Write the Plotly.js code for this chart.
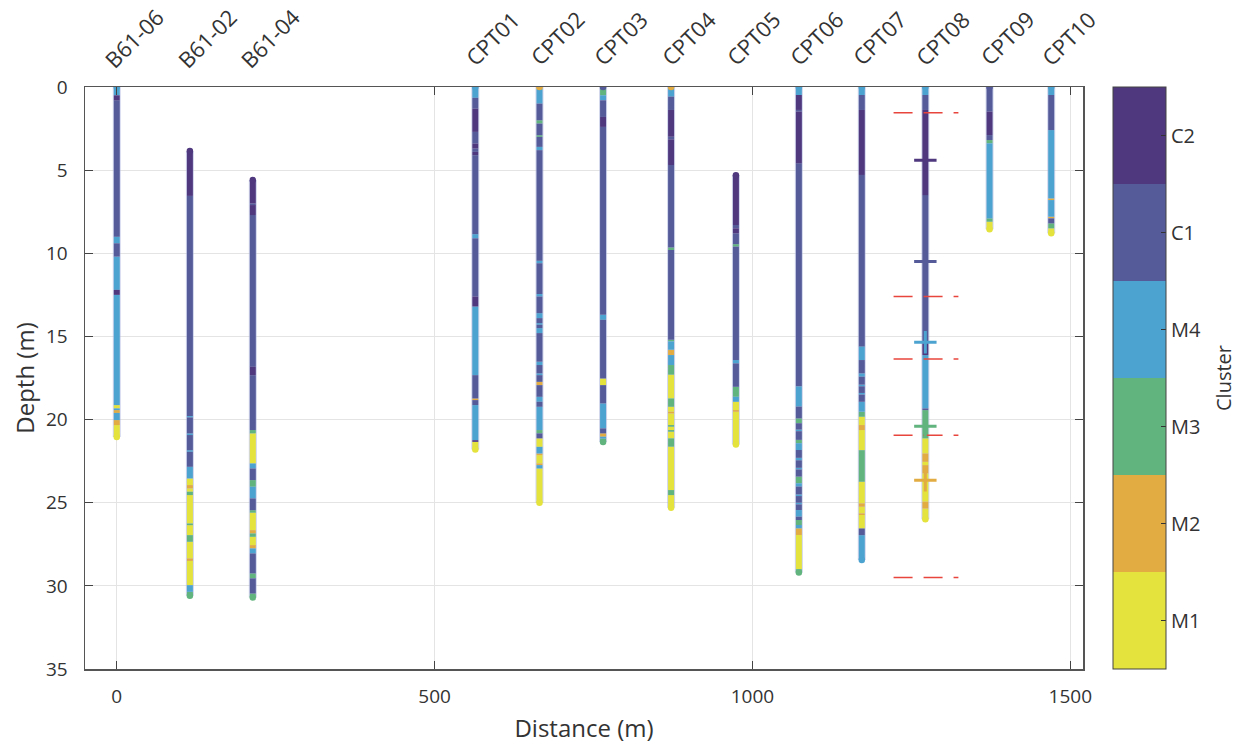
<!DOCTYPE html>
<html>
<head>
<meta charset="utf-8">
<script src="https://cdn.plot.ly/plotly-3.0.1.min.js"></script>
<style>html,body{margin:0;padding:0;background:#fff;}#chart{width:1239px;height:751px;}</style>
</head>
<body>
<div id="chart"></div>
<script>
// ---------- DATA ----------
const boreholeNames = ['B61-06','B61-02','B61-04','CPT01','CPT02','CPT03','CPT04','CPT05','CPT06','CPT07','CPT08','CPT09','CPT10'];
const boreholeX = [0, 115, 214, 564, 665, 765, 872, 974, 1073, 1172, 1272, 1373, 1470];

// interval boundaries (depth, m) and cluster of each interval
const B61_06_depth = [0, 0.5, 0.8, 9.0, 9.4, 10.2, 12.2, 12.5, 19.13, 19.33, 19.43, 19.6, 20.03, 20.33, 21.05];
const B61_06_cluster = ['M4','C2','C1','M4','C1','M4','C2','M4','M1','M4','M2','M4','M2','M1'];

const B61_02_depth = [3.85, 6.55, 19.79, 19.87, 20.83, 20.93, 21.84, 21.94, 22.84, 23.54, 23.94, 24.14, 24.34, 24.54, 26.25, 26.35, 26.95, 27.35, 28.35, 28.5, 29.96, 30.36, 30.6];
const B61_02_cluster = ['C2','C1','M4','C1','M4','C1','M4','C1','M4','M1','M2','M1','M3','M1','M3','M1','M3','M1','M2','M1','M4','M3'];

const B61_04_depth = [5.6, 7.0, 7.1, 7.7, 16.82, 17.33, 20.63, 20.83, 22.64, 22.94, 23.64, 24.04, 24.74, 25.45, 25.6, 26.65, 26.85, 27.05, 27.55, 27.75, 28.05, 29.25, 29.55, 30.46, 30.7];
const B61_04_cluster = ['C2','C1','C2','C1','C2','C1','M3','M1','M4','C1','M3','M4','C1','M3','M1','M2','M3','M1','M2','M4','C1','M3','C1','M3'];

const CPT01_depth = [0, 0.65, 1.3, 2.7, 3.4, 3.7, 3.9, 4.1, 8.85, 9.1, 12.6, 13.2, 17.33, 18.73, 18.83, 19.13, 21.24, 21.34, 21.8];
const CPT01_cluster = ['M4','C1','C2','C1','C2','C1','C2','C1','M4','C1','C2','M4','C1','M2','C1','M4','C2','M1'];

const CPT02_depth = [0, 0.1, 1.0, 2.0, 2.2, 2.9, 3.0, 3.6, 3.8, 10.45, 10.6, 12.45, 12.6, 13.6, 13.9, 14.2, 14.3, 14.5, 14.8, 16.52, 16.72, 17.22, 17.33, 17.73, 17.93, 18.63, 18.93, 19.23, 20.63, 20.83, 21.13, 21.64, 22.04, 22.14, 22.64, 22.74, 22.94, 25.0];
const CPT02_cluster = ['M2','M4','C1','M3','C1','M3','C1','M4','C1','M4','C1','M4','C1','M4','C1','M4','C1','M4','C1','M4','C1','M4','C1','M2','C1','M4','C1','M4','M3','C1','M1','M4','M2','M1','M2','M4','M1'];

const CPT03_depth = [0, 0.1, 0.5, 0.8, 1.8, 2.4, 13.7, 14.0, 17.53, 17.93, 19.03, 20.53, 20.83, 21.03, 21.14, 21.35];
const CPT03_cluster = ['C1','M3','M4','C1','C2','C1','M4','C1','M1','C1','M4','C1','M2','M4','M3'];

const CPT04_depth = [0, 0.05, 0.58, 1.38, 2.99, 3.15, 4.69, 9.65, 9.8, 15.2, 15.3, 15.8, 16.12, 16.72, 17.3, 18.73, 19.23, 19.53, 19.63, 20.33, 20.43, 20.63, 20.73, 21.13, 21.63, 24.24, 24.54, 25.3];
const CPT04_cluster = ['M2','M4','C1','C2','C1','C2','C1','M3','C1','M3','M4','M2','M4','M3','M1','M3','M1','M2','M1','M3','M1','M3','M1','M3','M1','M3','M1'];

const CPT05_depth = [5.3, 8.3, 8.5, 8.8, 9.45, 9.6, 16.42, 16.62, 18.03, 18.63, 18.93, 19.43, 19.53, 21.5];
const CPT05_cluster = ['C2','C1','C2','C1','M3','C1','M4','C1','M3','M4','M1','M2','M1'];

const CPT06_depth = [0, 0.48, 1.38, 1.48, 4.59, 18.0, 19.22, 19.93, 20.22, 20.6, 20.7, 21.22, 21.42, 21.83, 22.3, 22.45, 22.9, 23.0, 23.43, 23.83, 24.03, 24.5, 24.6, 25.0, 25.1, 25.44, 25.84, 26.04, 26.34, 26.54, 26.94, 29.0, 29.2];
const CPT06_cluster = ['M4','C2','C1','C2','C1','M4','C1','M3','C1','M4','C1','M3','M4','C1','M4','C1','M4','C1','M3','M4','C1','M4','C1','M4','C1','M4','C1','M3','M4','M2','M1','M3'];

const CPT07_depth = [0, 0.48, 1.38, 5.29, 15.6, 16.42, 17.22, 17.42, 17.9, 18.0, 18.4, 18.5, 18.93, 19.53, 19.83, 20.33, 20.63, 21.84, 23.74, 25.04, 25.24, 25.64, 25.74, 26.55, 26.95, 28.45];
const CPT07_cluster = ['M4','C1','C2','C1','M4','C1','M4','C1','M4','C1','M4','C1','M4','M3','M1','M2','M1','M3','M1','M2','M1','M2','M1','C1','M4'];

const CPT08_depth = [0, 0.48, 1.38, 6.5, 15.4, 16.12, 19.33, 19.43, 21.13, 22.04, 22.54, 22.74, 23.24, 24.94, 25.35, 26.0];
const CPT08_cluster = ['M4','C1','C2','C1','C2','M4','C1','M3','M1','M2','M1','M2','M1','M2','M1'];

const CPT09_depth = [0, 1.48, 2.89, 3.19, 3.39, 7.9, 8.1, 8.55];
const CPT09_cluster = ['C1','C2','C1','M3','M4','M3','M1'];

const CPT10_depth = [0, 0.48, 2.59, 6.7, 6.8, 7.8, 7.9, 8.2, 8.5, 8.8];
const CPT10_cluster = ['M4','C1','M4','M2','M4','M2','C1','M3','M1'];

// CPT08 reference markers and boundaries
const cpt08MarkDepth = [4.4, 10.5, 15.35, 20.4, 23.65];
const cpt08MarkCluster = ['C2','C1','M4','M3','M2'];
const cpt08BoundaryDepth = [1.55, 12.6, 16.35, 20.95, 29.5];

// cluster legend (bottom to top)
const clusterNames = ['M1','M2','M3','M4','C1','C2'];
const clusterColors = ['#e4e23c','#e2ac42','#62b47e','#4da3cf','#545b98','#4f387e'];

// ---------- BUILD ----------
const depthLists = [B61_06_depth,B61_02_depth,B61_04_depth,CPT01_depth,CPT02_depth,CPT03_depth,CPT04_depth,CPT05_depth,CPT06_depth,CPT07_depth,CPT08_depth,CPT09_depth,CPT10_depth];
const clusterLists = [B61_06_cluster,B61_02_cluster,B61_04_cluster,CPT01_cluster,CPT02_cluster,CPT03_cluster,CPT04_cluster,CPT05_cluster,CPT06_cluster,CPT07_cluster,CPT08_cluster,CPT09_cluster,CPT10_cluster];
const colorOf = c => clusterColors[clusterNames.indexOf(c)];

const traces = [];

// faint halo behind each column
const hx = [], hy = [];
depthLists.forEach((d, b) => { hx.push(boreholeX[b], boreholeX[b], null); hy.push(d[0], d[d.length-1], null); });
traces.push({type:'scatter', mode:'lines', x:hx, y:hy, line:{color:'rgba(170,178,220,0.55)', width:8}, hoverinfo:'skip', showlegend:false});

clusterNames.forEach(cn => {
  const xs = [], ys = [];
  depthLists.forEach((d, b) => {
    clusterLists[b].forEach((c, i) => {
      if (c === cn) { xs.push(boreholeX[b], boreholeX[b], null); ys.push(d[i], d[i+1], null); }
    });
  });
  traces.push({type:'scatter', mode:'lines', x:xs, y:ys, line:{color:colorOf(cn), width:6}, hoverinfo:'skip', showlegend:false});
});

// rounded ends of each column
const capX = [], capY = [], capC = [];
depthLists.forEach((d, b) => {
  const cl = clusterLists[b];
  capX.push(boreholeX[b], boreholeX[b]);
  capY.push(d[0], d[d.length-1]);
  capC.push(colorOf(cl[0]), colorOf(cl[cl.length-1]));
});
traces.push({type:'scatter', mode:'markers', x:capX, y:capY, marker:{color:capC, size:6.5, line:{width:0}}, hoverinfo:'skip', showlegend:false});

// red dashed boundaries at CPT08
const bx = [], by = [];
cpt08BoundaryDepth.forEach(d => { bx.push(1222, 1324, null); by.push(d, d, null); });
traces.push({type:'scatter', mode:'lines', x:bx, y:by, line:{color:'#e8453c', width:1.5, dash:'19px,11px'}, hoverinfo:'skip', showlegend:false});

// crosses at CPT08
traces.push({type:'scatter', mode:'markers', x:cpt08MarkDepth.map(() => boreholeX[10]), y:cpt08MarkDepth,
  marker:{symbol:'cross-thin', size:16, line:{width:3, color:cpt08MarkCluster.map(colorOf)}}, hoverinfo:'skip', showlegend:false});

// colour bar
const cscale = [];
clusterColors.forEach((c, i) => { cscale.push([i/6, c]); cscale.push([(i+1)/6, c]); });
traces.push({type:'scatter', mode:'markers', x:[-1000], y:[-1000], hoverinfo:'skip', showlegend:false,
  marker:{color:[1], cmin:0.5, cmax:6.5, colorscale:cscale, showscale:true, size:1,
    colorbar:{x:1.0301, xanchor:'left', xpad:0, ypad:0, y:0.5, yanchor:'middle', len:1, lenmode:'fraction',
      thickness:53, thicknessmode:'pixels', outlinewidth:1, outlinecolor:'#444',
      tickvals:[1,2,3,4,5,6], ticktext:clusterNames, ticks:'inside', ticklen:5, tickcolor:'#333', tickwidth:1,
      tickfont:{size:20, color:'#333'}}}});

// borehole name labels above the plot
const annotations = boreholeNames.map((n, i) => ({
  text:n, x:boreholeX[i], xref:'x', y:1, yref:'paper', xshift:17, yshift:49,
  xanchor:'center', yanchor:'middle', textangle:-45, showarrow:false, font:{size:22, color:'#333'}
}));
annotations.push({text:'Cluster', xref:'paper', yref:'paper', x:1.1403, y:0.5, xanchor:'center', yanchor:'middle',
  textangle:-90, showarrow:false, font:{size:20, color:'#333'}});

const layout = {
  width:1239, height:751,
  margin:{l:85, r:156, t:87, b:82, pad:0, autoexpand:false},
  paper_bgcolor:'#ffffff', plot_bgcolor:'#ffffff',
  font:{family:'Open Sans, sans-serif', color:'#333', size:20},
  showlegend:false,
  annotations:annotations,
  xaxis:{range:[-50,1520], tickvals:[0,500,1000,1500], ticks:'inside', ticklen:8, tickcolor:'#444', tickwidth:1,
    showline:true, linecolor:'#555', linewidth:1.5, mirror:'ticks', showgrid:true, gridcolor:'#e4e4e4', gridwidth:1,
    zeroline:false, ticklabelstandoff:10, tickfont:{size:19},
    title:{text:'Distance (m)', font:{size:24}, standoff:12}},
  yaxis:{range:[35,0], tickvals:[0,5,10,15,20,25,30,35], ticks:'inside', ticklen:8, tickcolor:'#444', tickwidth:1,
    showline:true, linecolor:'#555', linewidth:1.5, mirror:'ticks', showgrid:true, gridcolor:'#e4e4e4', gridwidth:1,
    zeroline:false, ticklabelstandoff:12, tickfont:{size:19},
    title:{text:'Depth (m)', font:{size:24}, standoff:4}}
};

Plotly.newPlot('chart', traces, layout, {displayModeBar:false, staticPlot:true});
</script>
</body>
</html>
